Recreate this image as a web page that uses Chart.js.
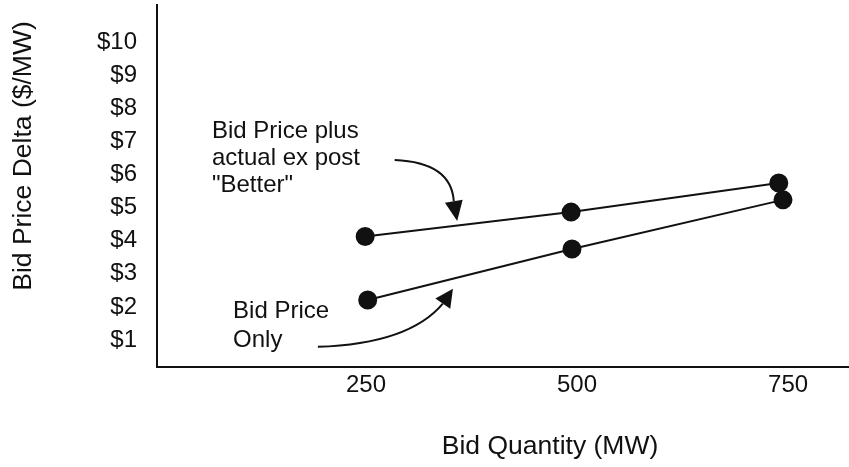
<!DOCTYPE html>
<html>
<head>
<meta charset="utf-8">
<script src="https://cdn.jsdelivr.net/npm/chart.js@4"></script>
<style>
  html, body { margin: 0; padding: 0; background: #fff; }
  #wrap { width: 849px; height: 467px; }
</style>
</head>
<body>
<div id="wrap"><canvas id="bidChart"></canvas></div>
<script>
// bid quantity (MW) and price delta ($/MW)
const qtyBetter = [249, 493, 739];
const priceBetter = [4.13, 4.87, 5.75];
const qtyBidOnly = [252, 494, 744];
const priceBidOnly = [2.21, 3.75, 5.24];

const xTicks = [250, 500, 750];
const yTicks = [1, 2, 3, 4, 5, 6, 7, 8, 9, 10];

// callout text, in data units (x, y of each line's centre)
const noteBetter = ['Bid Price plus', 'actual ex post', '"Better"'];
const noteBetterAt = [[67.5, 7.30], [67.5, 6.51], [67.5, 5.69]];
const noteBidOnly = ['Bid Price', 'Only'];
const noteBidOnlyAt = [[92.5, 1.85], [92.5, 1.0]];

// arrows: start, control, head base, tip (data units)
const arrowBetter = [[284, 6.45], [351, 6.38], [354, 5.20], [358, 4.60]];
const arrowBidOnly = [[193, 0.79], [301, 0.88], [341, 2.10], [353, 2.55]];

const FONT = '"Liberation Sans", Arial, sans-serif';

const toPoints = (xs, ys) => xs.map((x, i) => ({ x: x, y: ys[i] }));

const calloutPlugin = {
  id: 'callouts',
  afterDatasetsDraw(chart) {
    const { ctx, scales: { x, y } } = chart;
    const px = p => [x.getPixelForValue(p[0]), y.getPixelForValue(p[1])];
    ctx.save();
    ctx.fillStyle = '#111';
    ctx.font = '24px ' + FONT;
    ctx.textAlign = 'left';
    ctx.textBaseline = 'middle';
    noteBetter.forEach((t, i) => { const p = px(noteBetterAt[i]); ctx.fillText(t, p[0], p[1]); });
    noteBidOnly.forEach((t, i) => { const p = px(noteBidOnlyAt[i]); ctx.fillText(t, p[0], p[1]); });

    [arrowBetter, arrowBidOnly].forEach(a => {
      const [s, c, e, tip] = a.map(px);
      ctx.strokeStyle = '#111';
      ctx.lineWidth = 2;
      ctx.beginPath();
      ctx.moveTo(s[0], s[1]);
      ctx.quadraticCurveTo(c[0], c[1], e[0], e[1]);
      ctx.stroke();
      const ang = Math.atan2(tip[1] - e[1], tip[0] - e[0]);
      const len = Math.hypot(tip[0] - e[0], tip[1] - e[1]);
      const hw = 9;
      ctx.beginPath();
      ctx.moveTo(tip[0], tip[1]);
      ctx.lineTo(tip[0] - len * Math.cos(ang) + hw * Math.sin(ang), tip[1] - len * Math.sin(ang) - hw * Math.cos(ang));
      ctx.lineTo(tip[0] - len * Math.cos(ang) - hw * Math.sin(ang), tip[1] - len * Math.sin(ang) + hw * Math.cos(ang));
      ctx.closePath();
      ctx.fill();
    });

    // axis titles
    ctx.font = '26.5px ' + FONT;
    ctx.textAlign = 'center';
    ctx.fillText('Bid Quantity (MW)', 550, 447);
    ctx.translate(24, 156);
    ctx.rotate(-Math.PI / 2);
    ctx.fillText('Bid Price Delta ($/MW)', 0, 0);
    ctx.restore();
  }
};

const lineStyle = {
  borderColor: '#111',
  backgroundColor: '#111',
  borderWidth: 2,
  pointRadius: 8.5,
  pointHoverRadius: 8.5,
  showLine: true,
  tension: 0
};

new Chart(document.getElementById('bidChart').getContext('2d'), {
  type: 'scatter',
  data: {
    datasets: [
      Object.assign({ label: 'Bid Price plus actual ex post', data: toPoints(qtyBetter, priceBetter) }, lineStyle),
      Object.assign({ label: 'Bid Price Only', data: toPoints(qtyBidOnly, priceBidOnly) }, lineStyle)
    ]
  },
  options: {
    responsive: true,
    maintainAspectRatio: false,
    animation: false,
    layout: { autoPadding: false, padding: { top: 5, right: 1, left: 0, bottom: 0 } },
    plugins: {
      legend: { display: false },
      tooltip: { enabled: false }
    },
    scales: {
      x: {
        type: 'linear',
        min: 2.4,
        max: 821,
        afterBuildTicks: s => { s.ticks = xTicks.map(v => ({ value: v })); },
        afterFit: s => { s.height = 100; s.paddingLeft = 0; s.paddingRight = 0; },
        grid: { drawOnChartArea: false, drawTicks: false },
        border: { color: '#111', width: 2 },
        ticks: { color: '#111', padding: 4, font: { family: FONT, size: 24 }, maxRotation: 0 }
      },
      y: {
        type: 'linear',
        min: 0.18,
        max: 11.14,
        afterBuildTicks: s => { s.ticks = yTicks.map(v => ({ value: v })); },
        afterFit: s => { s.width = 157; s.paddingTop = 0; s.paddingBottom = 0; },
        grid: { drawOnChartArea: false, drawTicks: false },
        border: { color: '#111', width: 2 },
        ticks: { color: '#111', padding: 20, font: { family: FONT, size: 24 }, callback: v => '$' + v }
      }
    }
  },
  plugins: [calloutPlugin]
});
</script>
</body>
</html>
